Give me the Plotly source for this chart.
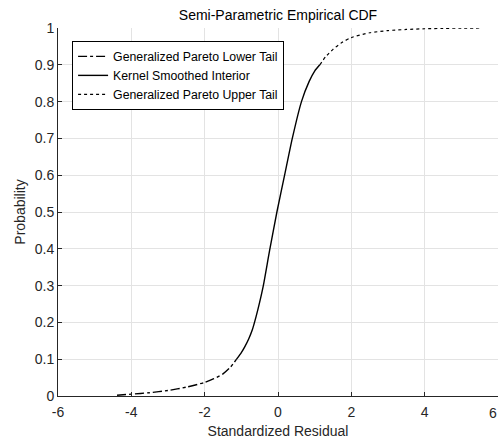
import plotly.graph_objects as go

# Lower tail (Generalized Pareto)
lower_x = [-4.39, -4.0, -3.5, -3.0, -2.5, -2.0, -1.75, -1.5, -1.3, -1.13]
lower_p = [0.002, 0.005, 0.009, 0.015, 0.024, 0.037, 0.047, 0.060, 0.078, 0.100]

# Kernel smoothed interior
mid_x = [-1.13, -1.0, -0.9, -0.8, -0.7, -0.6, -0.5, -0.4, -0.23, -0.03, 0.18, 0.39, 0.64, 0.85, 1.0, 1.14]
mid_p = [0.100, 0.118, 0.135, 0.155, 0.180, 0.215, 0.255, 0.300, 0.395, 0.500, 0.600, 0.700, 0.800, 0.855, 0.883, 0.900]

# Upper tail (Generalized Pareto)
upper_x = [1.14, 1.3, 1.5, 1.75, 2.0, 2.5, 3.0, 3.5, 4.0, 4.5, 5.0, 5.5]
upper_p = [0.900, 0.922, 0.942, 0.961, 0.974, 0.987, 0.993, 0.996, 0.998, 0.999, 0.9995, 1.0]

x_ticks = [-6, -4, -2, 0, 2, 4, 6]
y_ticks = [0, 0.1, 0.2, 0.3, 0.4, 0.5, 0.6, 0.7, 0.8, 0.9, 1]
y_labels = ["0", "0.1", "0.2", "0.3", "0.4", "0.5", "0.6", "0.7", "0.8", "0.9", "1"]

FONT = "Liberation Sans, Arial, sans-serif"
AX = "#262626"
GRID = "#e3e3e3"

fig = go.Figure()
fig.add_trace(go.Scatter(x=lower_x, y=lower_p, mode="lines", name="Generalized Pareto Lower Tail",
                         line=dict(color="black", width=1.4, dash="dashdot", shape="spline", smoothing=0.6)))
fig.add_trace(go.Scatter(x=mid_x, y=mid_p, mode="lines", name="Kernel Smoothed Interior",
                         line=dict(color="black", width=1.4, shape="spline", smoothing=0.6)))
fig.add_trace(go.Scatter(x=upper_x, y=upper_p, mode="lines", name="Generalized Pareto Upper Tail",
                         line=dict(color="black", width=1.2, dash="dot", shape="spline", smoothing=0.6)))

# right-most tick label, kept inside the page edge
fig.add_annotation(x=x_ticks[-1], xref="x", xanchor="right", xshift=1,
                   y=0, yref="paper", yanchor="top", yshift=-7,
                   text=str(x_ticks[-1]), showarrow=False,
                   font=dict(family=FONT, size=14, color=AX))

fig.update_layout(
    width=499, height=441,
    margin=dict(l=58, r=1, t=28, b=45),
    plot_bgcolor="white", paper_bgcolor="white",
    font=dict(family=FONT, size=14, color=AX),
    title=dict(text="Semi-Parametric Empirical CDF", x=(58 + 220) / 499, xanchor="center",
               y=1 - 15 / 441, yanchor="middle", yref="container",
               font=dict(family=FONT, size=14, color="black")),
    showlegend=True,
    legend=dict(x=0.032, y=0.965, xanchor="left", yanchor="top",
                bgcolor="white", bordercolor="black", borderwidth=1,
                font=dict(family=FONT, size=12.3, color="black"),
                tracegroupgap=0, itemwidth=30),
    xaxis=dict(range=[-6, 6], tickvals=x_ticks, ticktext=[str(v) for v in x_ticks],
               showgrid=True, gridcolor=GRID, gridwidth=1, zeroline=False,
               showline=True, linecolor=AX, linewidth=1, mirror=False,
               ticks="inside", ticklen=4, tickcolor=AX, ticklabelstandoff=3,
               tickfont=dict(family=FONT, size=14, color=AX),
               title=dict(text="Standardized Residual", standoff=7,
                          font=dict(family=FONT, size=14, color=AX))),
    yaxis=dict(range=[0, 1], tickvals=y_ticks, ticktext=y_labels,
               showgrid=True, gridcolor=GRID, gridwidth=1, zeroline=False,
               showline=True, linecolor=AX, linewidth=1, mirror=False,
               ticks="inside", ticklen=4, tickcolor=AX,
               tickfont=dict(family=FONT, size=14, color=AX),
               title=dict(text="Probability", standoff=5,
                          font=dict(family=FONT, size=14, color=AX))),
)

fig.write_html("out.html")
